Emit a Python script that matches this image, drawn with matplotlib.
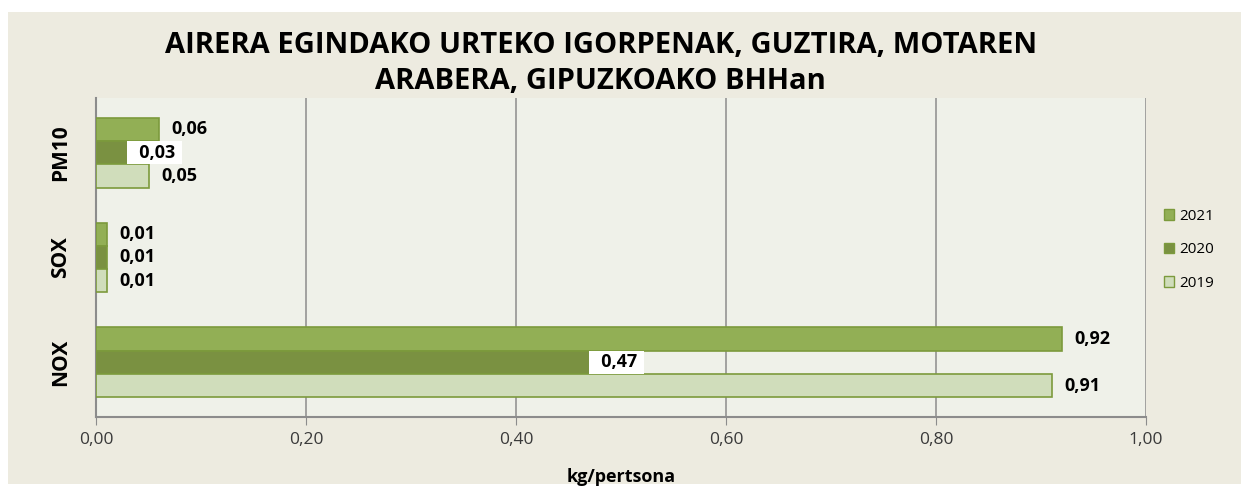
import matplotlib.pyplot as plt
from matplotlib.patches import Rectangle, Patch
import numpy as np

plt.rcParams['font.family'] = ['Open Sans', 'DejaVu Sans']

pollutants = ['NOX', 'SOX', 'PM10']
years = ['2021', '2020', '2019']
vals_2021 = [0.92, 0.01, 0.06]
vals_2020 = [0.47, 0.01, 0.03]
vals_2019 = [0.91, 0.01, 0.05]
xticks = [0.0, 0.2, 0.4, 0.6, 0.8, 1.0]

colors = {'2021': '#92AF55', '2020': '#7A9141', '2019': '#D0DDBB'}
edge = '#7C9A3C'
series = {'2021': vals_2021, '2020': vals_2020, '2019': vals_2019}

fig = plt.figure(figsize=(12.41, 4.87), dpi=100, facecolor='white')
fig.patches.append(Rectangle((8 / 1241, 3 / 487), 1 - 8 / 1241, 1 - 15 / 487,
                             transform=fig.transFigure, facecolor='#EDEBE0',
                             edgecolor='none', zorder=-10))

ax = fig.add_axes([96 / 1241, 70 / 487, 1050 / 1241, 319 / 487])
ax.set_facecolor('#EFF1E9')

h = 0.222
y = np.arange(len(pollutants))
offsets = {'2021': h, '2020': 0.0, '2019': -h}
for yr in years:
    bars = ax.barh(y + offsets[yr], series[yr], height=h, color=colors[yr],
                   edgecolor=edge, linewidth=1.2, label=yr, zorder=3)
    for b, v in zip(bars, series[yr]):
        txt = '{:.2f}'.format(v).replace('.', ',')
        if yr == '2020' and v > 0.02:
            ax.text(v + 0.002, b.get_y() + h / 2, '  ' + txt + ' ', va='center',
                    ha='left', fontsize=13, fontweight='bold', color='black',
                    zorder=4, bbox=dict(boxstyle='square,pad=0.12',
                                        facecolor='white', edgecolor='none'))
        else:
            ax.text(v + 0.012, b.get_y() + h / 2, txt, va='center', ha='left',
                    fontsize=13, fontweight='bold', color='black', zorder=4)

ax.set_xlim(0, 1.0)
ax.set_ylim(-0.52, 2.52)
ax.set_xticks(xticks)
ax.set_xticklabels(['{:.2f}'.format(t).replace('.', ',') for t in xticks],
                   fontsize=12.5, color='#3A3A3A')
ax.set_yticks(y)
ax.set_yticklabels(pollutants, rotation=90, va='center', fontsize=15,
                   fontweight='bold')
ax.tick_params(axis='y', length=0, pad=18)
ax.tick_params(axis='x', length=6, color='#8C8C8C', pad=5)
ax.grid(axis='x', color='#8C8C8C', linewidth=1.1, zorder=0)
for s in ['top', 'right']:
    ax.spines[s].set_visible(False)
for s in ['left', 'bottom']:
    ax.spines[s].set_color('#8C8C8C')
    ax.spines[s].set_linewidth(1.5)

ax.set_xlabel('kg/pertsona', fontsize=13, fontweight='bold', labelpad=14)

fig.text(0.484, 0.907, 'AIRERA EGINDAKO URTEKO IGORPENAK, GUZTIRA, MOTAREN',
         ha='center', va='center', fontsize=21, fontweight='bold')
fig.text(0.484, 0.833, 'ARABERA, GIPUZKOAKO BHHan',
         ha='center', va='center', fontsize=21, fontweight='bold')

handles = [Patch(facecolor=colors[yr], edgecolor=edge, label=yr) for yr in years]
fig.legend(handles=handles, loc='center left', bbox_to_anchor=(1150 / 1241, 0.487),
           frameon=False, fontsize=11, labelspacing=1.2, handlelength=0.7,
           handleheight=0.7, handletextpad=0.3)

fig.savefig('out.png', dpi=100, facecolor='white')
